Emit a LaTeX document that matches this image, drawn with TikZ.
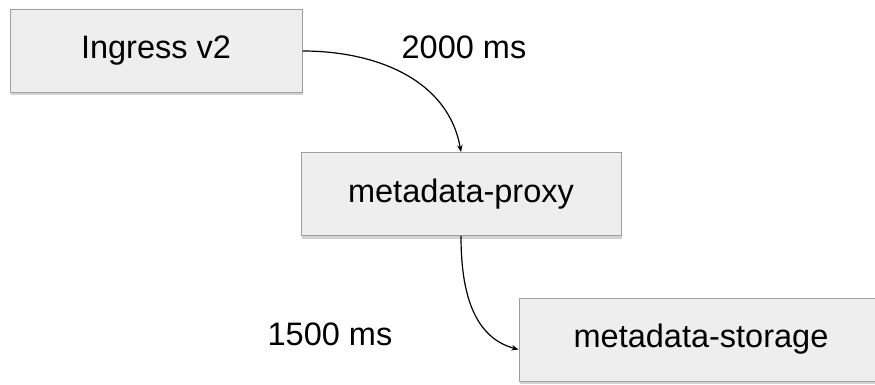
\documentclass[tikz,border=0pt]{standalone}
\usepackage{fontspec}
\setmainfont{Liberation Sans}
\usetikzlibrary{shadows}
\usetikzlibrary{arrows.meta}

\definecolor{boxfill}{HTML}{EEEEEE}
\definecolor{boxline}{HTML}{9E9E9E}

\begin{document}
\begin{tikzpicture}[x=1pt, y=-1pt,
            >={Stealth[length=7pt,width=5.5pt]},
            box/.style = {draw=boxline, fill=boxfill, line width=1pt,
                drop shadow={shadow xshift=1pt, shadow yshift=-3pt,
                    opacity=0.35},
                minimum height=83pt, align=center,
                font=\fontsize{32.5}{38}\selectfont},
            lbl/.style = {font=\fontsize{32.5}{38}\selectfont},
            edge/.style = {->, line width=1.2pt}]
            \useasboundingbox (0,0) rectangle (875,385);
            \node[box, minimum width=292pt](b1) at (156,51) {Ingress v2};
            \node[box, minimum width=320pt](b2) at (461,194) {metadata-proxy};
            \node[box, minimum width=364pt](b3) at (701,339.5) {metadata-storage};
            \node[lbl](t1) at (464,47) {2000 ms};
            \node[lbl](t2) at (330,334) {1500 ms};
            \draw[edge] (b1.east) to[out=0, in=100] (b2.north);
            \draw[edge] (b2.south) to[out=-90, in=165] ([yshift=-10pt]b3.west);
        \end{tikzpicture}
\end{document}
